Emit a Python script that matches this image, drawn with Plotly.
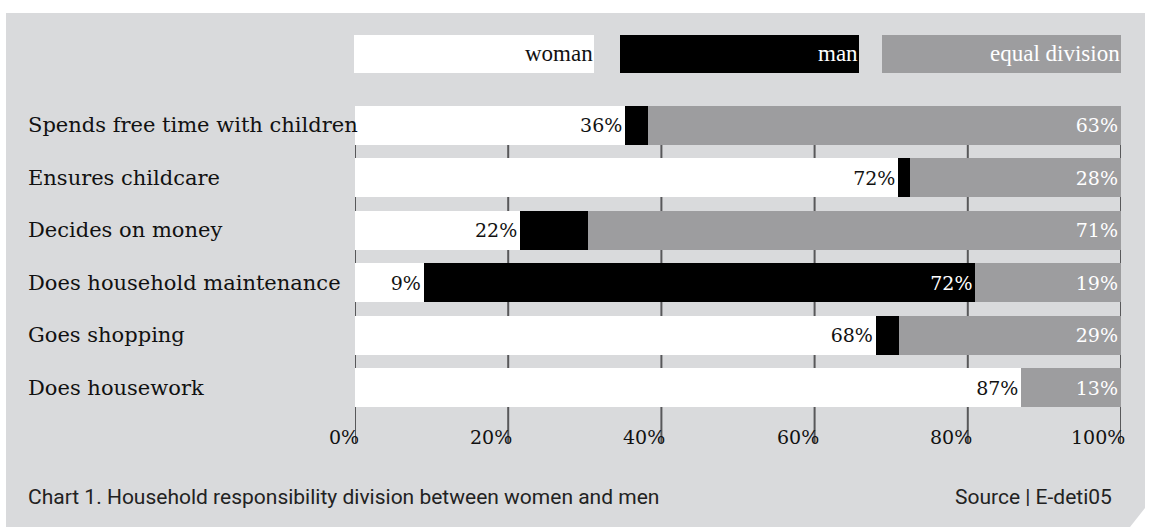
import plotly.graph_objects as go

# ---- data -------------------------------------------------------------
categories = [
    "Spends free time with children",
    "Ensures childcare",
    "Decides on money",
    "Does household maintenance",
    "Goes shopping",
    "Does housework",
]
woman = [36, 72, 22, 9, 68, 87]
man = [3, 1.5, 9, 72, 3, 0]
equal_division = [63, 28, 71, 19, 29, 13]
man_labels = ["", "", "", "72%", "", ""]
series_names = ["woman", "man", "equal division"]
tick_values = [0, 20, 40, 60, 80, 100]
tick_labels = ["0%", "20%", "40%", "60%", "80%", "100%"]
caption = "Chart 1. Household responsibility division between women and men"
source = "Source | E-deti05"

# ---- style ------------------------------------------------------------
W, H = 1150, 527
L, R, T, B = 355, 29, 99, 113
PW, PH = W - L - R, H - T - B
PANEL = "#d9dadc"
GREY = "#9d9d9f"
GRID = "#58585a"
SERIF = "DejaVu Serif"
LEG_FONT = "Liberation Serif"
SANS = "Roboto, sans-serif"
colors = ["#ffffff", "#000000", GREY]
text_colors = ["#111111", "#ffffff", "#ffffff"]


def px(x):
    return (x - L) / PW


def py(y):
    return (H - B - y) / PH


fig = go.Figure()
pct = lambda vals: [f"{v:g}%" for v in vals]
for name, vals, txt, col, tcol in zip(
    series_names,
    [woman, man, equal_division],
    [pct(woman), man_labels, pct(equal_division)],
    colors,
    text_colors,
):
    fig.add_trace(go.Bar(
        y=categories, x=vals, name=name, orientation="h",
        marker=dict(color=col, line=dict(width=0)),
        text=txt, textposition="inside", insidetextanchor="end",
        textangle=0, constraintext="none",
        insidetextfont=dict(family=SERIF, size=19, color=tcol),
        hoverinfo="skip",
    ))

shapes = []
# background panel with clipped bottom-right corner
shapes.append(dict(
    type="path", xref="paper", yref="paper", layer="below",
    path=(f"M {px(6)},{py(13)} L {px(1145)},{py(13)} L {px(1145)},{py(508)} "
          f"L {px(1130)},{py(527)} L {px(6)},{py(527)} Z"),
    fillcolor=PANEL, line=dict(width=0),
))
# vertical grid lines behind the bars
for tv in tick_values:
    shapes.append(dict(
        type="line", xref="x", yref="paper", layer="below",
        x0=tv, x1=tv, y0=py(443), y1=py(106),
        line=dict(color=GRID, width=2),
    ))

annotations = []
# custom legend: coloured boxes with right-aligned names
legend_boxes = [(354, 594), (620, 859), (882, 1121)]
for (bx0, bx1), name, col, tcol in zip(legend_boxes, series_names, colors, text_colors):
    shapes.append(dict(
        type="rect", xref="paper", yref="paper", layer="below",
        x0=px(bx0), x1=px(bx1), y0=py(73), y1=py(35),
        fillcolor=col, line=dict(width=0),
    ))
    annotations.append(dict(
        text=name, xref="paper", yref="paper", x=px(bx1 + 1), y=py(53),
        xanchor="right", yanchor="middle", showarrow=False,
        font=dict(family=LEG_FONT, size=23, color=tcol),
    ))

# category labels, left aligned
for cat in categories:
    annotations.append(dict(
        text=cat, xref="paper", yref="y", x=px(26), y=cat,
        xanchor="left", yanchor="middle", showarrow=False,
        font=dict(family=SERIF, size=21, color="#111111"),
    ))

# x tick labels, right edge just past each grid line
for tv, tl in zip(tick_values, tick_labels):
    annotations.append(dict(
        text=tl, xref="x", yref="paper", x=tv, y=py(437), xshift=6,
        xanchor="right", yanchor="middle", showarrow=False,
        font=dict(family=SERIF, size=19, color="#111111"),
    ))

annotations.append(dict(
    text=caption, xref="paper", yref="paper", x=px(26), y=py(497),
    xanchor="left", yanchor="middle", showarrow=False,
    font=dict(family=SANS, size=21, color="#222222"),
))
annotations.append(dict(
    text=source, xref="paper", yref="paper", x=px(1114), y=py(497),
    xanchor="right", yanchor="middle", showarrow=False,
    font=dict(family=SANS, size=21, color="#222222"),
))

fig.update_layout(
    width=W, height=H,
    margin=dict(l=L, r=R, t=T, b=B, pad=0),
    barmode="stack", barnorm="percent", bargap=0.263,
    paper_bgcolor="#ffffff", plot_bgcolor="rgba(0,0,0,0)",
    showlegend=False,
    xaxis=dict(range=[0, 100], showgrid=False, zeroline=False,
               showticklabels=False, ticks="", fixedrange=True),
    yaxis=dict(autorange="reversed", showgrid=False, zeroline=False,
               showticklabels=False, ticks="", fixedrange=True),
    shapes=shapes, annotations=annotations,
    uniformtext=dict(mode=False),
)

fig.write_html("out.html")
